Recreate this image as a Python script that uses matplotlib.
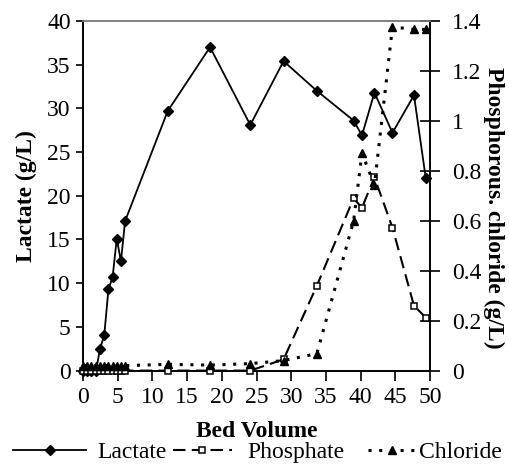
import matplotlib
matplotlib.use("Agg")
import matplotlib.pyplot as plt
from matplotlib.ticker import FuncFormatter

###
### Data
###
bed_volume = [0.05, 0.6, 1.2, 1.85, 2.45, 3.05, 3.65, 4.25, 4.85, 5.45, 6.05,
              12.2, 18.3, 24.1, 28.9, 33.7, 39.0, 40.2, 42.0, 44.6, 47.7, 49.4]
lactate    = [0, 0, 0, 0, 2.5, 4.1, 9.3, 10.7, 15.1, 12.5, 17.1,
              29.7, 37.0, 28.1, 35.4, 32.0, 28.6, 26.9, 31.8, 27.2, 31.5, 22.0]
phosphate  = [0, 0, 0, 0, 0, 0, 0, 0, 0, 0, 0,
              0, 0, 0, 0.045, 0.34, 0.69, 0.652, 0.774, 0.572, 0.26, 0.212]
chloride   = [0.02, 0.02, 0.02, 0.02, 0.02, 0.02, 0.02, 0.02, 0.02, 0.02, 0.02,
              0.025, 0.022, 0.028, 0.04, 0.068, 0.60, 0.87, 0.743, 1.376, 1.366, 1.366]

###
### General configuration
###
plt.rcParams.update({'font.family': 'Liberation Serif', 'font.size': 17})

fig = plt.figure(figsize=(5.1, 4.65), dpi=100)
ax = fig.add_axes([0.163, 0.203, 0.68, 0.752])
ax2 = ax.twinx()

###
### Lactate (left axis)
###
l1, = ax.plot(bed_volume, lactate, color='k', lw=1.3, marker='D',
              markersize=5, clip_on=False, zorder=3, label='Lactate')
ax.set_xlim(0, 50)
ax.set_ylim(0, 40)
ax.set_xticks(range(0, 51, 5))
ax.set_yticks(range(0, 41, 5))
ax.set_xlabel('Bed Volume', fontweight='bold', fontsize=17, labelpad=9)
ax.set_ylabel('Lactate (g/L)', fontweight='bold', fontsize=17,
              va='center', ha='center')
ax.yaxis.set_label_coords(-0.165, 0.5)
ax.tick_params(axis='y', direction='out', length=5, width=1.2, pad=4)
ax.tick_params(axis='x', direction='out', length=7, width=1.2, pad=5)

###
### Phosphate and chloride (right axis)
###
l2, = ax2.plot(bed_volume, phosphate, color='k', lw=1.5, ls=(0, (6, 3)),
               marker='s', markersize=5, markerfacecolor='white',
               markeredgewidth=1.1, clip_on=False, zorder=3, label='Phosphate')
l3, = ax2.plot(bed_volume, chloride, color='k', lw=2.2, ls=(0, (1, 2.5)),
               marker='^', markersize=6, clip_on=False, zorder=3, label='Chloride')
ax2.set_ylim(0, 1.4)
ax2.set_yticks([0, 0.2, 0.4, 0.6, 0.8, 1.0, 1.2, 1.4])
ax2.yaxis.set_major_formatter(FuncFormatter(lambda v, p: f"{v:g}"))
ax2.set_ylabel('Phosphorous. chloride (g/L)', fontweight='bold', fontsize=17,
               rotation=270, va='center', ha='center')
ax2.yaxis.set_label_coords(1.183, 0.465)
ax2.tick_params(direction='inout', length=14, width=1.2, pad=9)

###
### Spines
###
for a in (ax, ax2):
    a.spines['top'].set_color('gray')
    a.spines['top'].set_linewidth(1.2)
    for s in ('left', 'right', 'bottom'):
        a.spines[s].set_linewidth(1.2)

###
### Legend: one entry per block, as in the original layout
###
entries = [(l1, 0.0255, 3.1, 0.47), (l2, 0.339, 2.5, 0.64), (l3, 0.7216, 2.0, 0.15)]
for line, x0, hlen, hpad in entries:
    fig.legend(handles=[line], loc='center left', bbox_to_anchor=(x0, 0.027),
               frameon=False, handlelength=hlen, handletextpad=hpad,
               borderpad=0, borderaxespad=0, fontsize=17)

plt.savefig('out.png', dpi=100)
